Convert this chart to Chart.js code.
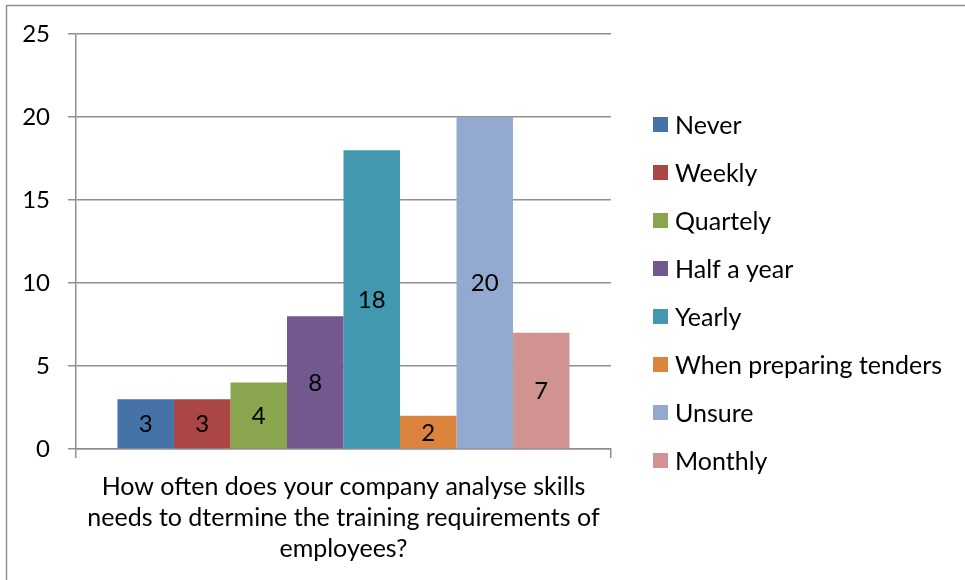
<!DOCTYPE html>
<html>
<head>
<meta charset="utf-8">
<script src="https://cdn.jsdelivr.net/npm/chart.js@4.4.1/dist/chart.umd.min.js"></script>
<style>
  html, body { margin: 0; padding: 0; background: #fff; }
  #wrap { width: 965px; height: 580px; position: relative; }
</style>
</head>
<body>
<div id="wrap"><canvas id="chart" width="965" height="580"></canvas></div>
<script>
// ---- data ----
const categories = [["How often does your company analyse skills", "needs to dtermine the training requirements of", "employees?"]];
const seriesNames = ["Never", "Weekly", "Quartely", "Half a year", "Yearly", "When preparing tenders", "Unsure", "Monthly"];
const seriesValues = [3, 3, 4, 8, 18, 2, 20, 7];
const seriesColors = ["#4572A7", "#AA4643", "#89A54E", "#71588F", "#4198AF", "#DB843D", "#93A9CF", "#D19392"];
const yTicks = [0, 5, 10, 15, 20, 25];

const FONT = "Lato, 'Open Sans', sans-serif";
const GRID = "#8f8f8f";

// frame round the whole chart (only top and left show in the picture)
const framePlugin = {
  id: "frame",
  beforeDraw(chart) {
    const ctx = chart.ctx;
    ctx.save();
    ctx.strokeStyle = GRID;
    ctx.lineWidth = 1.5;
    ctx.strokeRect(6.5, 5.5, 2000, 2000);
    ctx.restore();
  }
};

// value labels in the middle of each bar
const labelPlugin = {
  id: "barLabels",
  afterDatasetsDraw(chart) {
    const ctx = chart.ctx;
    ctx.save();
    ctx.font = "24px " + FONT;
    ctx.fillStyle = "#000";
    ctx.textAlign = "center";
    ctx.textBaseline = "middle";
    chart.data.datasets.forEach((ds, i) => {
      chart.getDatasetMeta(i).data.forEach((bar, j) => {
        ctx.fillText(String(ds.data[j]), bar.x, (bar.y + bar.base) / 2 + 1);
      });
    });
    ctx.restore();
  }
};

// legend on the right, Excel style
const legendPlugin = {
  id: "sideLegend",
  afterDraw(chart) {
    const ctx = chart.ctx;
    const x0 = 653, y0 = 117, step = 48, box = 15;
    ctx.save();
    ctx.font = "25px " + FONT;
    ctx.textBaseline = "middle";
    ctx.textAlign = "left";
    chart.data.datasets.forEach((ds, i) => {
      const y = y0 + i * step;
      ctx.fillStyle = ds.backgroundColor;
      ctx.fillRect(x0, y, box, box);
      ctx.fillStyle = "#000";
      ctx.fillText(ds.label, x0 + 22, y + box / 2 + 1);
    });
    ctx.restore();
  }
};

const datasets = seriesNames.map((name, i) => ({
  label: name,
  data: [seriesValues[i]],
  backgroundColor: seriesColors[i],
  borderWidth: 0
}));

new Chart(document.getElementById("chart"), {
  type: "bar",
  data: { labels: categories, datasets: datasets },
  options: {
    responsive: false,
    animation: false,
    layout: { padding: { top: 34, right: 354, left: 0, bottom: 0 } },
    categoryPercentage: 0.845,
    barPercentage: 1.0,
    plugins: {
      legend: { display: false },
      tooltip: { enabled: false }
    },
    scales: {
      x: {
        grid: { display: true, drawOnChartArea: false, drawTicks: true, tickLength: 9, color: GRID, lineWidth: 1.5, offset: true },
        border: { display: true, color: GRID, width: 1.5 },
        ticks: { color: "#000", font: { family: FONT, size: 25, lineHeight: 1.25 }, padding: 13, maxRotation: 0, autoSkip: false },
        afterFit(scale) { scale.height = 131; }
      },
      y: {
        min: 0,
        max: 25,
        afterBuildTicks(scale) { scale.ticks = yTicks.map(v => ({ value: v })); },
        grid: { color: GRID, lineWidth: 1.5, tickLength: 8 },
        border: { display: true, color: GRID, width: 1.5 },
        ticks: { color: "#000", font: { family: FONT, size: 24 }, padding: 18 },
        afterFit(scale) { scale.width = 76; }
      }
    }
  },
  plugins: [framePlugin, labelPlugin, legendPlugin]
});
</script>
</body>
</html>
